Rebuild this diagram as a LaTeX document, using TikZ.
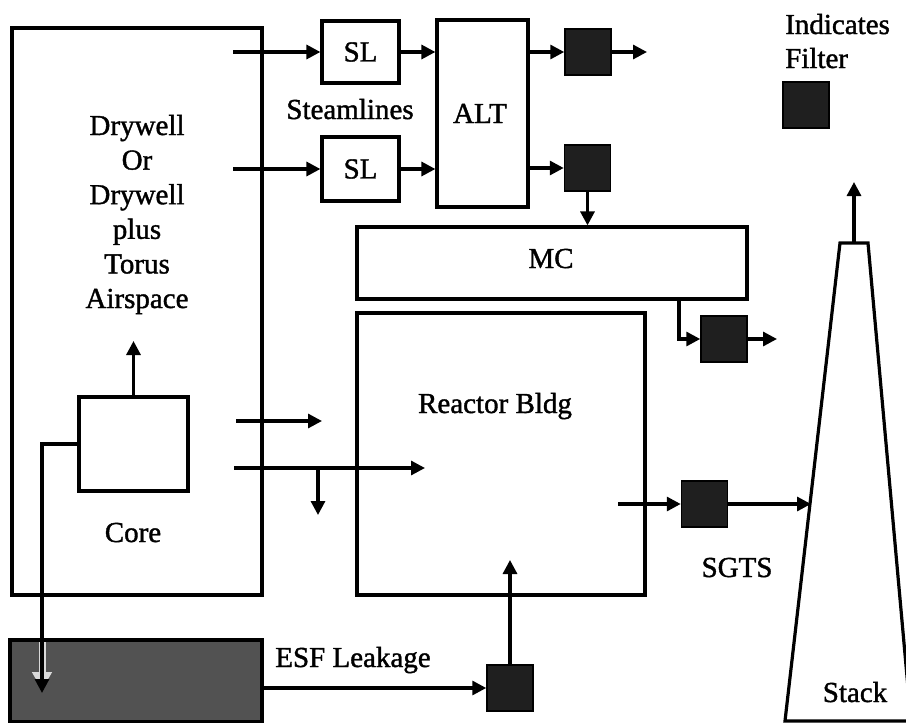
\documentclass[tikz,border=0pt]{standalone}
\usepackage{fontspec}
\setmainfont{Liberation Serif}[BoldFont={Liberation Serif},BoldFeatures={FakeBold=1.3}]
\usetikzlibrary{arrows.meta,calc}
\begin{document}
\begin{tikzpicture}[x=1pt,y=-1pt,
  box/.style={draw,line width=3.2pt,inner sep=0pt,minimum width=#1,font=\fontsize{29}{34.6}\selectfont\bfseries},
  filt/.style={draw,fill=black!88,line width=1.5pt,minimum width=46pt,minimum height=46pt,inner sep=0pt},
  lbl/.style={font=\fontsize{29}{34.6}\selectfont\bfseries,inner sep=0pt,anchor=base},
  flow/.style={line width=3.2pt,-{Triangle[length=14pt,width=14pt]}},
  wire/.style={line width=3.2pt}]
\useasboundingbox (0,0) rectangle (906,723);
% boxes
\node[box=250pt,minimum height=567pt] (dw) at (137,311.5) {};
\node[box=109pt,minimum height=94pt] (core) at (133.5,444) {};
\node[box=288pt,minimum height=282pt] (rb) at (501,454) {};
\node[box=390pt,minimum height=72pt] (mc) at (552,263) {};
\node[box=91pt,minimum height=187pt] (alt) at (482.5,113.5) {};
\node[box=77pt,minimum height=62pt] (sl1) at (360.5,52) {SL};
\node[box=77pt,minimum height=64pt] (sl2) at (360.5,169) {SL};
\node[box=252pt,minimum height=82pt,fill=black!68] (esf) at (136,681) {};
% filters
\node[filt] (f1) at (588,52) {};
\node[filt] (f2) at (587.5,168) {};
\node[filt] (f3) at (724,339) {};
\node[filt] (f4) at (704.5,504) {};
\node[filt] (f5) at (510,688) {};
\node[filt] (fl) at (806,105) {};
% stack
\coordinate (stTL) at (840,243);
\coordinate (stTR) at (868,243);
\coordinate (stBL) at (785,721);
\coordinate (stBR) at (911,721);
\draw[wire,line join=miter] (stBL) -- (stTL) -- (stTR) -- (stBR) -- cycle;
% labels
\node[lbl,align=center] (dwt) at (137,308) {Drywell\\Or\\Drywell\\plus\\Torus\\Airspace};
\node[lbl] (coret) at (133,542) {Core};
\node[lbl] (slt) at (350,119) {Steamlines};
\node[lbl] (altt) at (480,123) {ALT};
\node[lbl] (mct) at (551,268) {MC};
\node[lbl] (rbt) at (495,413) {Reactor Bldg};
\node[lbl] (sgt) at (737,577) {SGTS};
\node[lbl] (stt) at (855,702) {Stack};
\node[lbl] (esft) at (353,667) {ESF Leakage};
\node[lbl,anchor=base west] (ind1) at (785,34) {Indicates};
\node[lbl,anchor=base west] (ind2) at (785,68) {Filter};
% coordinates for free ends
\coordinate (s1) at (233,52);
\coordinate (s2) at (233,169);
\coordinate (f1out) at (647,52);
\coordinate (f3out) at (777,339);
\coordinate (mcout) at (679,299);
\coordinate (dwup) at (133.5,341);
\coordinate (esfin) at (42,693);
\coordinate (a1s) at (236,421);
\coordinate (a1e) at (322,421);
\coordinate (a2s) at (234,468);
\coordinate (a2e) at (425,468);
\coordinate (br) at (318,468);
\coordinate (bre) at (318,515);
\coordinate (rbout) at (618,504);
\coordinate (stin) at (811,504);
\coordinate (f5up) at (510,560);
\coordinate (sttop) at (854,243);
\coordinate (stup) at (854,182);
% connectors
\draw[flow] (s1) -- (sl1.west);
\draw[flow] (s2) -- (sl2.west);
\draw[flow] (sl1.east) -- (sl1.east -| alt.west);
\draw[flow] (sl2.east) -- (sl2.east -| alt.west);
\draw[flow] (f1.west -| alt.east) -- (f1.west);
\draw[flow] (f2.west -| alt.east) -- (f2.west);
\draw[flow] (f1.east) -- (f1out);
\draw[flow] (f2.south) -- (f2.south |- mc.north);
\draw[flow] (mcout) |- (f3.west);
\draw[flow] (f3.east) -- (f3out);
\draw[flow] (core.north) -- (dwup);
\draw[flow] (a1s) -- (a1e);
\draw[flow] (a2s) -- (a2e);
\draw[flow] (br) -- (bre);
\draw[flow] (rbout) -- (f4.west);
\draw[flow] (f4.east) -- (stin);
\draw[flow] (f5.west -| esf.east) -- (f5.west);
\draw[flow] (f5.north) -- (f5up);
\draw[flow] (sttop) -- (stup);
% core to ESF with light halo inside the ESF box
\draw[line width=7pt,white!85!black,-{Triangle[length=18pt,width=19pt]}] (42,642) -- ([yshift=3pt]esfin);
\draw[flow] (core.west) -| (esfin);
\end{tikzpicture}
\end{document}
